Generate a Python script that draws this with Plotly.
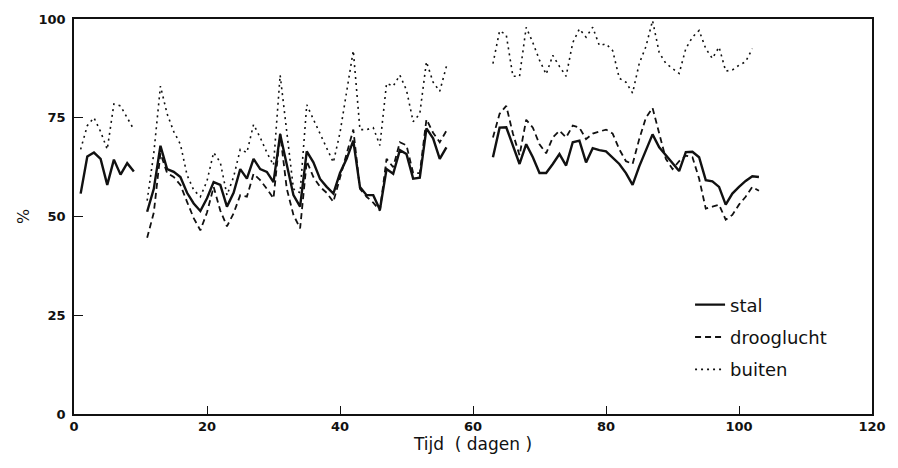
import plotly.graph_objects as go

# ---- data ----
days_1 = list(range(1, 10))
days_2 = list(range(11, 57))
days_3 = list(range(63, 104))
days_3_buiten = list(range(63, 103))

stal_1 = [55.8, 65.2, 66.2, 64.6, 58.0, 64.4, 60.6, 63.5, 61.4]
stal_2 = [51.2, 57, 67.9, 62, 61.3, 60, 56, 53.3, 51.4, 54.6, 58.7, 58, 52.5, 56,
          62, 59.6, 64.6, 62, 61.3, 58.7, 70.8, 63, 55.4, 52.5, 66.5, 63.7, 59.5,
          57.5, 55.8, 61, 64.6, 69.2, 57.5, 55.4, 55.4, 51.7, 62, 60.8, 66.8, 65.8,
          59.6, 59.8, 72.3, 69.8, 64.6, 67.5]
stal_3 = [65, 72.5, 72.6, 68, 63.3, 68.3, 65, 61, 61, 63.3, 65.8, 62.9, 68.8, 69.2,
          63.7, 67.3, 66.8, 66.5, 65, 63.3, 61, 58, 62.7, 67, 70.8, 67.5, 65.5, 63.5,
          61.5, 66.3, 66.4, 65, 59.2, 58.9, 57.5, 53, 55.8, 57.5, 59, 60.2, 60]

droog_2 = [44.6, 51, 66, 61, 60, 58, 53.7, 49.6, 46.5, 51, 57.5, 51.5, 47.5, 50.8,
           55.4, 55, 60.8, 59.2, 57, 54.6, 71, 57, 50.4, 47, 64, 60, 57.5, 56, 53.7,
           60, 66, 72, 57, 55, 53.5, 51.5, 64.6, 62.5, 68.8, 68, 61, 61, 74.6, 71.2,
           68.8, 71.7]
droog_3 = [70, 76, 78, 71, 65.5, 74.5, 72.5, 68.3, 66, 70, 71.7, 70, 73, 72.5, 69.6,
           71, 71.5, 72, 71, 67, 64, 63.3, 69.6, 75, 77.5, 71, 64.6, 62, 64, 65.4, 65,
           59.6, 52, 52.5, 53, 49.2, 50.4, 53, 55, 57.5, 56.5]

buiten_1 = [67, 73, 75, 71.5, 67, 78.5, 78, 75, 72]
buiten_2 = [54, 66, 83, 76, 71.5, 68.3, 60.5, 56.7, 55, 59, 66.2, 63.7, 55.4, 60,
            67, 66.2, 73.3, 70, 66.2, 63, 85.8, 72, 57, 56, 78.3, 74.6, 71, 67.5,
            63.7, 71.2, 82, 92, 72, 72, 72.5, 68, 83.7, 83, 85.8, 82, 74, 76, 89.2,
            84, 81.7, 88]
buiten_3 = [88.7, 97, 96, 85.5, 85.5, 97.9, 94, 89.6, 86, 90.8, 88, 85.5, 94, 97.5,
            95.4, 97.9, 93.3, 93.7, 92, 85, 84, 81.25, 88.75, 93, 99.6, 91.5, 88.75,
            87.5, 86.2, 92.5, 95.4, 97.1, 92.5, 90, 92.9, 86.8, 87.1, 88.3, 89.2, 92.5]

x_ticks = [0, 20, 40, 60, 80, 100, 120]
y_ticks = [0, 25, 50, 75, 100]


def join(*parts):
    out = []
    for i, p in enumerate(parts):
        if i:
            out.append(None)
        out.extend(p)
    return out


ink = "#111111"
fig = go.Figure()
fig.add_trace(go.Scatter(
    x=join(days_1, days_2, days_3), y=join(stal_1, stal_2, stal_3),
    mode="lines", name="stal", legendgroup="a",
    line=dict(color=ink, width=2.4), connectgaps=False))
fig.add_trace(go.Scatter(
    x=join(days_2, days_3), y=join(droog_2, droog_3),
    mode="lines", name="drooglucht", legendgroup="b",
    line=dict(color=ink, width=1.8, dash="6px,4px"), connectgaps=False))
fig.add_trace(go.Scatter(
    x=join(days_1, days_2, days_3_buiten), y=join(buiten_1, buiten_2, buiten_3),
    mode="lines", name="buiten", legendgroup="c",
    line=dict(color=ink, width=1.6, dash="2px,4px"), connectgaps=False))

tickfont = dict(family="DejaVu Sans", size=13, color=ink, weight="bold")
fig.update_layout(
    width=898, height=468,
    margin=dict(l=74, r=20, t=14, b=54),
    paper_bgcolor="white", plot_bgcolor="white",
    showlegend=True,
    legend=dict(x=0.772, y=0.323, xanchor="left", yanchor="top",
                font=dict(family="DejaVu Sans", size=18, color=ink),
                bgcolor="rgba(0,0,0,0)", tracegroupgap=6),
    xaxis=dict(range=[0, 120], tickvals=x_ticks, ticktext=[str(v) for v in x_ticks],
               showgrid=False, zeroline=False, showline=True, linecolor=ink,
               linewidth=1.5, mirror=True, ticks="inside", ticklen=8,
               tickcolor=ink, tickwidth=1.2, tickfont=tickfont,
               title=dict(text="Tijd  ( dagen )", standoff=2,
                          font=dict(family="DejaVu Sans", size=17, color=ink))),
    yaxis=dict(range=[0, 100], tickvals=y_ticks, ticktext=[str(v) for v in y_ticks],
               showgrid=False, zeroline=False, showline=True, linecolor=ink,
               linewidth=1.5, mirror=True, ticks="inside", ticklen=9,
               tickcolor=ink, tickwidth=1.2, tickfont=tickfont,
               ticklabelstandoff=4,
               title=dict(text="%", standoff=5,
                          font=dict(family="DejaVu Sans", size=16, color=ink))),
)

fig.write_html("out.html")
